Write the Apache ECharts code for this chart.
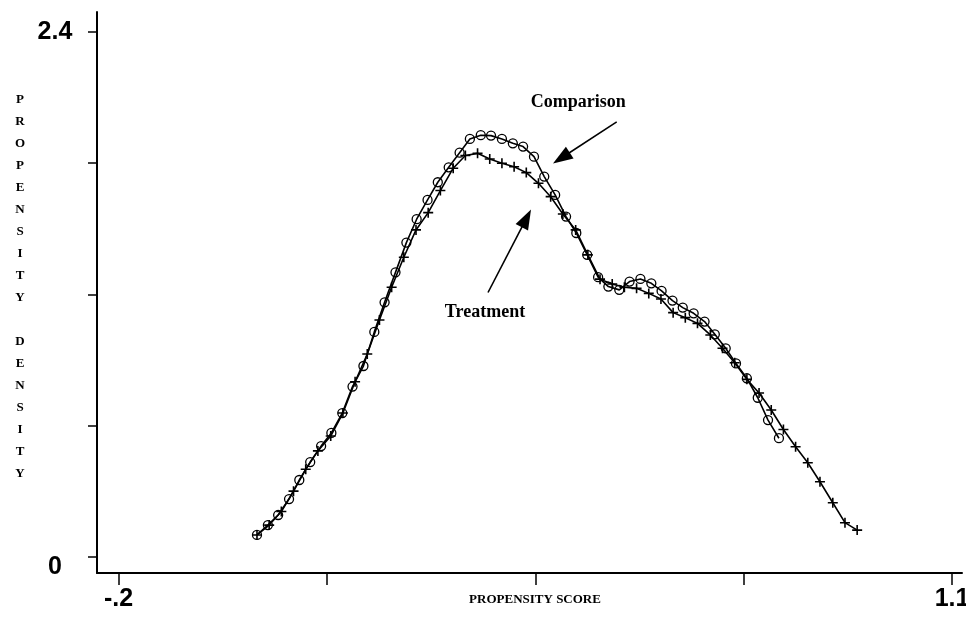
<!DOCTYPE html>
<html>
<head>
<meta charset="utf-8">
<title>Propensity density</title>
<script src="https://cdn.jsdelivr.net/npm/echarts@6/dist/echarts.min.js"></script>
<style>
  html, body { margin: 0; padding: 0; background: #fff; }
  #chart { width: 966px; height: 620px; }
</style>
</head>
<body>
<div id="chart"></div>
<script>
// Estimated propensity-score densities for the two groups
const comparisonX = [0.016, 0.033, 0.049, 0.066, 0.082, 0.099, 0.116, 0.132, 0.149, 0.165,
  0.182, 0.199, 0.215, 0.232, 0.249, 0.265, 0.282, 0.298, 0.315, 0.332,
  0.348, 0.365, 0.381, 0.398, 0.415, 0.431, 0.448, 0.464, 0.481, 0.498,
  0.514, 0.531, 0.548, 0.564, 0.581, 0.597, 0.614, 0.631, 0.647, 0.664,
  0.680, 0.697, 0.714, 0.730, 0.747, 0.763, 0.780, 0.797, 0.813, 0.830];
const comparisonY = [0.101, 0.146, 0.192, 0.265, 0.352, 0.434, 0.507, 0.567, 0.658, 0.779,
  0.873, 1.029, 1.164, 1.301, 1.437, 1.544, 1.632, 1.713, 1.781, 1.848,
  1.911, 1.928, 1.926, 1.911, 1.891, 1.876, 1.830, 1.739, 1.655, 1.556,
  1.481, 1.381, 1.279, 1.236, 1.221, 1.259, 1.271, 1.251, 1.216, 1.172,
  1.140, 1.114, 1.076, 1.018, 0.954, 0.885, 0.817, 0.728, 0.626, 0.543];

const treatmentX = [0.016, 0.035, 0.054, 0.073, 0.092, 0.111, 0.131, 0.150, 0.169, 0.188,
  0.207, 0.226, 0.245, 0.264, 0.283, 0.302, 0.322, 0.341, 0.360, 0.379,
  0.398, 0.417, 0.436, 0.455, 0.474, 0.493, 0.513, 0.532, 0.551, 0.570,
  0.589, 0.608, 0.627, 0.646, 0.665, 0.684, 0.703, 0.723, 0.742, 0.761,
  0.780, 0.799, 0.818, 0.837, 0.856, 0.875, 0.894, 0.914, 0.933, 0.952];
const treatmentY = [0.101, 0.146, 0.208, 0.301, 0.401, 0.485, 0.553, 0.658, 0.801, 0.928,
  1.083, 1.233, 1.370, 1.495, 1.574, 1.675, 1.777, 1.835, 1.845, 1.819,
  1.800, 1.784, 1.757, 1.708, 1.647, 1.568, 1.495, 1.381, 1.270, 1.248,
  1.233, 1.228, 1.205, 1.179, 1.117, 1.094, 1.068, 1.015, 0.954, 0.888,
  0.812, 0.750, 0.672, 0.583, 0.504, 0.431, 0.344, 0.248, 0.157, 0.123];

// Axis ticks and the few that carry a label
const xTicks = [-0.2, 0.125, 0.45, 0.775, 1.1];
const xTickLabels = { '-0.2': '-.2', '1.1': '1.1' };
const yTicks = [0, 0.6, 1.2, 1.8, 2.4];
const yTickLabels = { '0': '{low|0}', '2.4': '2.4' };

const xTitle = 'PROPENSITY SCORE';
const yTitleWords = ['PROPENSITY', 'DENSITY'];

// Callout texts and the arrows pointing at each curve
const calloutComparison = { text: 'Comparison', at: [0.517, 2.08], from: [0.577, 1.989], to: [0.4907, 1.8236] };
const calloutTreatment = { text: 'Treatment', at: [0.3716, 1.12], from: [0.3763, 1.209], to: [0.4362, 1.548] };

const SERIF = '"Liberation Serif", "Times New Roman", serif';
const SANS = '"Liberation Sans", Arial, sans-serif';

const pairs = (xs, ys) => xs.map((x, i) => [x, ys[i]]);
const labelKey = v => String(Math.round(v * 1000) / 1000);

// Vertical title: one letter per line, a blank line between the words
const yTitle = yTitleWords.map(w => w.split('').join('\n')).join('\n\n');

const plusSymbol = 'path://M4.2,0H5.8V10H4.2Z M0,4.2H10V5.8H0Z';

const tickFont = { color: '#000', fontFamily: SANS, fontWeight: 'bold', fontSize: 25 };

const chart = echarts.init(document.getElementById('chart'), null, { renderer: 'canvas' });

chart.setOption({
  animation: false,
  backgroundColor: '#fff',
  grid: { left: 97, right: 4, top: 12, bottom: 47, containLabel: false, outerBoundsMode: 'none' },
  graphic: [
    {
      type: 'text',
      x: 20,
      y: 89,
      silent: true,
      style: {
        text: yTitle,
        align: 'center',
        verticalAlign: 'top',
        lineHeight: 22,
        fontSize: 13,
        fontWeight: 'bold',
        fontFamily: SERIF,
        fill: '#000'
      }
    }
  ],
  xAxis: {
    type: 'value',
    min: -0.2335,
    max: 1.1155,
    splitLine: { show: false },
    axisLine: { onZero: false, lineStyle: { color: '#000', width: 2 } },
    axisTick: { customValues: xTicks, length: 12, lineStyle: { color: '#000', width: 1.5 } },
    axisLabel: Object.assign({
      customValues: [-0.2, 1.1],
      formatter: v => xTickLabels[labelKey(v)] || '',
      margin: 14
    }, tickFont),
    name: xTitle,
    nameLocation: 'middle',
    nameGap: 20,
    nameMoveOverlap: false,
    nameTextStyle: { color: '#000', fontFamily: SERIF, fontWeight: 'bold', fontSize: 13, padding: [0, 0, 0, 11] }
  },
  yAxis: {
    type: 'value',
    min: -0.073,
    max: 2.491,
    splitLine: { show: false },
    axisLine: { onZero: false, lineStyle: { color: '#000', width: 2 } },
    axisTick: { customValues: yTicks, length: 9, lineStyle: { color: '#000', width: 1.5 } },
    axisLabel: Object.assign({
      customValues: [0, 2.4],
      formatter: v => yTickLabels[labelKey(v)] || '',
      align: 'center',
      margin: 42,
      rich: { low: Object.assign({ padding: [20, 0, 0, 0] }, tickFont) }
    }, tickFont)
  },
  series: [
    {
      type: 'line',
      name: 'Comparison',
      data: pairs(comparisonX, comparisonY),
      symbol: 'circle',
      symbolSize: 9,
      showAllSymbol: true,
      itemStyle: { color: 'rgba(0,0,0,0)', borderColor: '#000', borderWidth: 1.3 },
      lineStyle: { color: '#000', width: 1.6 },
      z: 3,
      markLine: {
        silent: true,
        symbol: ['none', 'triangle'],
        symbolSize: [14, 20],
        label: { show: false },
        lineStyle: { color: '#000', width: 1.6, type: 'solid' },
        itemStyle: { color: '#000' },
        data: [
          [{ coord: calloutComparison.from }, { coord: calloutComparison.to }],
          [{ coord: calloutTreatment.from }, { coord: calloutTreatment.to }]
        ]
      },
      markPoint: {
        silent: true,
        symbol: 'circle',
        symbolSize: 1,
        itemStyle: { color: 'rgba(0,0,0,0)' },
        label: {
          show: true, position: 'inside', formatter: '{b}',
          color: '#000', fontFamily: SERIF, fontWeight: 'bold', fontSize: 18
        },
        data: [
          { name: calloutComparison.text, coord: calloutComparison.at },
          { name: calloutTreatment.text, coord: calloutTreatment.at }
        ]
      }
    },
    {
      type: 'line',
      name: 'Treatment',
      data: pairs(treatmentX, treatmentY),
      symbol: plusSymbol,
      symbolSize: 10,
      showAllSymbol: true,
      itemStyle: { color: '#000', borderWidth: 0 },
      lineStyle: { color: '#000', width: 1.6 },
      z: 2
    }
  ]
});
</script>
</body>
</html>
